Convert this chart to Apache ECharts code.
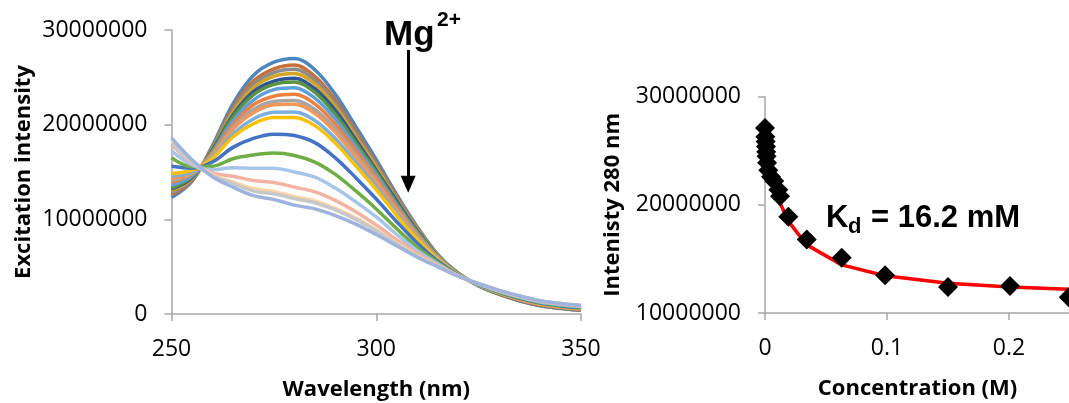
<!DOCTYPE html>
<html><head><meta charset="utf-8">
<script src="https://cdn.jsdelivr.net/npm/echarts@6/dist/echarts.min.js"></script>
<style>html,body{margin:0;padding:0;background:#fff}#c{width:1069px;height:403px}</style>
</head><body><div id="c"></div><script>
// ---- Left panel: excitation spectra (values in millions) ----
const wavelengths = [250,255,260,265,270,275,280,285,290,295,300,305,310,315,320,325,330,335,340,345,350];
const s01 = [12.3,14.0,17.8,22.2,25.2,26.6,27.0,25.8,23.2,19.8,16.3,12.6,9.2,6.3,4.3,3.0,2.1,1.4,0.9,0.6,0.4];
const s02 = [12.6,14.1,17.6,21.8,24.6,25.9,26.3,25.1,22.6,19.3,15.9,12.4,9.1,6.2,4.3,3.0,2.1,1.4,0.9,0.6,0.4];
const s03 = [12.8,14.2,17.55,21.55,24.25,25.5,25.85,24.7,22.25,19.0,15.7,12.2,9.0,6.2,4.3,3.0,2.1,1.4,0.9,0.6,0.4];
const s04 = [13.0,14.3,17.45,21.3,23.9,25.1,25.4,24.3,21.9,18.7,15.5,12.0,8.9,6.2,4.3,3.0,2.1,1.45,0.95,0.65,0.45];
const s05 = [13.2,14.4,17.35,21.0,23.5,24.6,24.9,23.8,21.5,18.4,15.2,11.9,8.8,6.1,4.3,3.0,2.15,1.45,0.95,0.65,0.45];
const s06 = [13.3,14.5,17.25,20.8,23.15,24.25,24.5,23.4,21.1,18.1,15.0,11.7,8.7,6.1,4.25,3.0,2.15,1.5,1.0,0.7,0.5];
const s07 = [13.6,14.6,17.1,20.4,22.6,23.7,23.9,22.8,20.6,17.7,14.7,11.5,8.55,6.05,4.25,3.05,2.2,1.5,1.0,0.7,0.5];
const s08 = [13.9,14.8,17.0,20.0,22.1,23.0,23.2,22.2,20.05,17.3,14.4,11.3,8.4,6.0,4.2,3.05,2.2,1.5,1.0,0.7,0.5];
const s09 = [14.1,14.8,16.85,19.7,21.6,22.45,22.55,21.6,19.55,16.85,14.05,11.05,8.3,5.95,4.2,3.05,2.2,1.55,1.05,0.75,0.55];
const s10 = [14.3,14.9,16.75,19.5,21.25,22.1,22.15,21.2,19.2,16.6,13.85,10.9,8.2,5.9,4.2,3.05,2.25,1.55,1.05,0.75,0.55];
const s11 = [14.6,15.0,16.6,19.0,20.6,21.3,21.35,20.45,18.55,16.05,13.45,10.6,8.0,5.8,4.2,3.05,2.25,1.6,1.1,0.8,0.6];
const s12 = [14.85,15.2,16.45,18.7,20.1,20.75,20.75,19.9,18.05,15.65,13.15,10.4,7.9,5.75,4.2,3.1,2.25,1.6,1.1,0.8,0.6];
const s13 = [15.6,15.4,16.05,17.6,18.55,19.0,18.85,18.1,16.5,14.4,12.15,9.75,7.5,5.6,4.15,3.1,2.3,1.65,1.15,0.85,0.65];
const s14 = [16.5,15.55,15.6,16.4,16.8,17.0,16.75,16.05,14.75,13.0,11.1,9.0,7.05,5.45,4.1,3.15,2.35,1.75,1.25,0.95,0.75];
const s15 = [17.2,15.75,15.25,15.45,15.4,15.4,15.0,14.45,13.3,11.85,10.25,8.4,6.7,5.3,4.05,3.15,2.4,1.8,1.3,1.0,0.8];
const s16 = [17.9,15.95,14.9,14.55,14.1,13.9,13.4,12.9,12.0,10.8,9.4,7.85,6.4,5.15,4.05,3.2,2.45,1.85,1.35,1.05,0.85];
const s17 = [18.3,16.1,14.7,13.95,13.25,12.95,12.4,11.95,11.15,10.15,8.9,7.5,6.15,5.05,4.0,3.2,2.5,1.9,1.4,1.1,0.9];
const s18 = [18.0,16.0,14.6,13.8,13.0,12.7,12.2,11.75,11.0,10.0,8.8,7.4,6.1,5.0,4.0,3.2,2.5,1.9,1.4,1.1,0.9];
const s19 = [18.6,16.3,14.5,13.4,12.5,12.1,11.5,11.1,10.4,9.5,8.4,7.2,6.0,5.0,4.0,3.2,2.5,1.9,1.4,1.1,0.9];
const spectra = [s01,s02,s03,s04,s05,s06,s07,s08,s09,s10,s11,s12,s13,s14,s15,s16,s17,s18,s19];
const spectraColors = ['#4E86BE','#C8703A','#8C8C8C','#D4A425','#2E5597','#5A9440','#5FA0DA','#EE8040','#A5A5A5','#F1975A','#7CAFDD','#FFC000','#4472C4','#70AD47','#A6C5E8','#F2B3A0','#FDD5A5','#C8C8C8','#9FB3DF'];
const leftXTicks = [250, 300, 350];
const leftYTicks = [0, 10000000, 20000000, 30000000];

// ---- Right panel: titration at 280 nm ----
const concentration = [0,0.0003,0.0005,0.0008,0.001,0.0013,0.0017,0.0027,0.0049,0.0076,0.0109,0.0123,0.0191,0.0342,0.0629,0.0984,0.150,0.2008,0.249];
const intensity280 = [27.1,26.3,25.85,25.4,24.9,24.5,23.9,23.2,22.6,22.2,21.4,20.8,18.9,16.8,15.1,13.5,12.4,12.5,11.45];
const fitValues = [27.1,26.8,26.6,26.35,26.2,25.9,25.6,24.8,23.4,22.0,20.7,20.2,18.5,16.3,14.45,13.45,12.75,12.4,12.2];
const rightXTicks = [0, 0.1, 0.2];
const rightYTicks = [10000000, 20000000, 30000000];

const M = 1e6;
const tickFont = {fontFamily:'"Open Sans"', fontSize:23, color:'#000'};
const nameFont = {fontFamily:'"Open Sans"', fontSize:22, fontWeight:'bold', color:'#000'};
const axLine = {show:true, lineStyle:{color:'#A6A6A6', width:1.5}};
const axTick = {show:true, inside:false, length:7, lineStyle:{color:'#A6A6A6', width:1.5}};

const series = spectra.map((s, k) => ({
  type:'line', xAxisIndex:0, yAxisIndex:0, showSymbol:false, smooth:0.35,
  data: wavelengths.map((w, i) => [w, s[i]*M]),
  lineStyle:{color:spectraColors[k], width:3.5}, itemStyle:{color:spectraColors[k]},
  silent:true, z:2
}));
series[0].markLine = {
  silent:true, symbol:['none','triangle'], symbolSize:[15,17], animation:false,
  label:{show:false}, lineStyle:{color:'#000', width:3, type:'solid'},
  data:[[{coord:[307.8, 27.9*M]},{coord:[307.8, 13.7*M]}]]
};
series.push({
  type:'line', xAxisIndex:1, yAxisIndex:1, showSymbol:false, smooth:false,
  data: concentration.map((c, i) => [c, fitValues[i]*M]),
  lineStyle:{color:'#FF0000', width:3.5}, itemStyle:{color:'#FF0000'}, z:2, silent:true
});
series.push({
  type:'scatter', xAxisIndex:1, yAxisIndex:1, symbol:'diamond', symbolSize:20,
  data: concentration.map((c, i) => [c, intensity280[i]*M]),
  itemStyle:{color:'#000', opacity:1}, z:3, silent:true, clip:false
});

const chart = echarts.init(document.getElementById('c'), null, {renderer:'canvas'});
chart.setOption({
  animation:false,
  backgroundColor:'#fff',
  grid:[
    {left:171.5, top:30, width:409.5, height:284, containLabel:false, outerBoundsMode:'none'},
    {left:765, top:96.7, width:305, height:216.3, containLabel:false, outerBoundsMode:'none'}
  ],
  xAxis:[
    {type:'value', gridIndex:0, min:leftXTicks[0], max:leftXTicks[2], interval:50,
     axisLine:axLine, axisTick:axTick, splitLine:{show:false},
     axisLabel:Object.assign({margin:24}, tickFont),
     name:'Wavelength (nm)', nameLocation:'middle', nameGap:65, nameTextStyle:nameFont},
    {type:'value', gridIndex:1, min:0, max:0.25, interval:0.1,
     axisLine:axLine, axisTick:axTick, splitLine:{show:false},
     axisLabel:Object.assign({margin:24, formatter:v => (v === 0.25 ? '' : String(v))}, tickFont),
     name:'Concentration (M)', nameLocation:'middle', nameGap:65, nameTextStyle:nameFont}
  ],
  yAxis:[
    {type:'value', gridIndex:0, min:leftYTicks[0], max:leftYTicks[3], interval:10000000,
     axisLine:axLine, axisTick:axTick, splitLine:{show:false},
     axisLabel:Object.assign({margin:24, formatter:v => String(v)}, tickFont),
     name:'Excitation intensity', nameLocation:'middle', nameGap:137, nameRotate:90, nameTextStyle:nameFont},
    {type:'value', gridIndex:1, min:rightYTicks[0], max:rightYTicks[2], interval:10000000,
     axisLine:axLine, axisTick:axTick, splitLine:{show:false},
     axisLabel:Object.assign({margin:24, formatter:v => String(v)}, tickFont),
     name:'Intenisty 280 nm', nameLocation:'middle', nameGap:141, nameRotate:90, nameTextStyle:nameFont}
  ],
  graphic:[
    {type:'text', left:384, top:18, silent:true, style:{text:'Mg', font:'bold 35px "Liberation Sans"', fill:'#000'}},
    {type:'text', left:437, top:10, silent:true, style:{text:'2+', font:'bold 21px "Liberation Sans"', fill:'#000'}},
    {type:'text', left:826, top:203, silent:true, style:{text:'K', font:'bold 31px "Liberation Sans"', fill:'#000'}},
    {type:'text', left:848, top:216, silent:true, style:{text:'d', font:'bold 22px "Liberation Sans"', fill:'#000'}},
    {type:'text', left:871, top:203, silent:true, style:{text:'= 16.2 mM', font:'bold 31px "Liberation Sans"', fill:'#000'}}
  ],
  series: series
});
</script></body></html>
